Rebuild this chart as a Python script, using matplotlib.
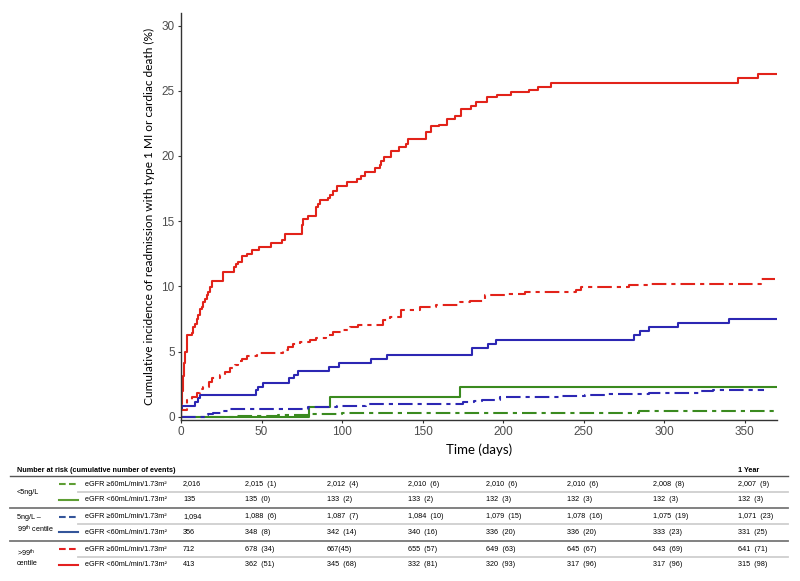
import matplotlib
matplotlib.use("Agg")
import matplotlib.pyplot as plt

plt.rcParams['font.family'] = ['Liberation Sans', 'DejaVu Sans']
plt.rcParams['mathtext.fontset'] = 'custom'
plt.rcParams['mathtext.rm'] = 'Liberation Sans'

# curve data (days, cumulative incidence %)
rs_t = [0, 0.3, 0.6, 1.0, 1.9, 2.7, 3.5, 6.6, 7.6, 8.7, 9.7, 10.7, 11.8, 12.8, 13.8, 14.9, 15.9,
        16.9, 18.0, 19.0, 26.2, 32.9, 34.0, 35.5, 37.6, 40.7, 43.8, 48.6, 55.6, 62.5, 64.5, 75.2,
        75.8, 78.9, 84.1, 85.1, 86.6, 91.4, 92.8, 94.4, 96.9, 103.1, 109.3, 112.0, 114.1, 120.3,
        123.4, 124.4, 125.9, 130.6, 135.4, 139.9, 140.9, 151.9, 155, 160, 165, 170, 174, 180, 183,
        190, 196, 205, 216, 221.5, 229.8, 346, 358, 370]
rs_v = [0, 1.0, 2.0, 3.1, 4.1, 5.0, 6.25, 6.4, 6.9, 7.1, 7.5, 7.8, 8.3, 8.4, 8.8, 9.05, 9.3,
        9.6, 9.95, 10.4, 11.1, 11.5, 11.7, 11.9, 12.3, 12.5, 12.8, 13.05, 13.3, 13.55, 14.05, 14.7,
        15.2, 15.4, 16.1, 16.3, 16.6, 16.8, 17.0, 17.3, 17.7, 18.0, 18.2, 18.45, 18.75, 19.05,
        19.3, 19.6, 19.9, 20.4, 20.7, 20.9, 21.3, 21.8, 22.3, 22.4, 22.8, 23.1, 23.6, 23.8, 24.1,
        24.5, 24.7, 24.9, 25.05, 25.3, 25.6, 26.0, 26.3, 26.3]

rd_t = [0, 0.3, 3.5, 6.6, 9.7, 11.8, 13.8, 17.6, 19.0, 24.2, 27.3, 30.4, 33.5, 35.5, 37.6, 41.1,
        46.9, 51.0, 63.4, 66.5, 69.6, 73.8, 80.0, 84.1, 90.3, 94.4, 100.6, 104.8, 110.0, 125.4,
        129.6, 136.8, 148.2, 158.5, 173.0, 179.2, 188.5, 202.9, 213.3, 245.3, 248.4, 278.4,
        289.8, 359.9, 369]
rd_v = [0, 0.5, 1.3, 1.5, 1.8, 2.1, 2.25, 2.7, 3.0, 3.2, 3.45, 3.7, 3.95, 4.25, 4.45, 4.65,
        4.85, 4.9, 5.15, 5.35, 5.6, 5.75, 5.9, 6.05, 6.25, 6.5, 6.65, 6.9, 7.0, 7.4,
        7.65, 8.15, 8.4, 8.6, 8.8, 8.9, 9.3, 9.45, 9.55, 9.75, 9.95, 10.1,
        10.2, 10.6, 10.6]

bs_t = [0, 0.2, 0.6, 8.7, 10.7, 11.8, 46.5, 47.9, 50.6, 67.2, 70.1, 72.7, 92.0, 98.2, 117.8,
        128.0, 180.8, 190.5, 195.7, 281.4, 285.0, 290.8, 308.4, 340.0, 370]
bs_v = [0, 0.6, 0.85, 1.15, 1.4, 1.7, 2.05, 2.25, 2.6, 2.95, 3.2, 3.5, 3.8, 4.1, 4.45,
        4.7, 5.3, 5.6, 5.9, 6.25, 6.6, 6.9, 7.2, 7.5, 7.5]

bd_t = [0, 15, 17, 20, 26, 29, 79, 97, 115, 150, 175, 182, 187, 197.8, 235.9, 251, 265, 290.8,
        322.8, 330, 362]
bd_v = [0, 0.1, 0.2, 0.3, 0.43, 0.62, 0.72, 0.85, 0.95, 1.0, 1.1, 1.2, 1.28, 1.48, 1.57, 1.63,
        1.71, 1.79, 1.94, 2.04, 2.04]

gs_t = [0, 79.6, 92.8, 173.0, 370]
gs_v = [0, 0.77, 1.53, 2.3, 2.3]

gd_t = [0, 35, 60, 75, 80, 100, 110, 284.6, 339, 370]
gd_v = [0, 0.05, 0.1, 0.15, 0.2, 0.25, 0.31, 0.41, 0.45, 0.45]

# number at risk table
group_labels = ['<5ng/L', '5ng/L \u2013\n99$^{\\mathrm{th}}$ centile', '>99$^{\\mathrm{th}}$\ncentile']
row_labels = ['eGFR \u226560mL/min/1.73m\u00b2', 'eGFR <60mL/min/1.73m\u00b2'] * 3
risk_rows = [
    ['2,016', '2,015  (1)', '2,012  (4)', '2,010  (6)', '2,010  (6)', '2,010  (6)', '2,008  (8)', '2,007  (9)'],
    ['135', '135  (0)', '133  (2)', '133  (2)', '132  (3)', '132  (3)', '132  (3)', '132  (3)'],
    ['1,094', '1,088  (6)', '1,087  (7)', '1,084  (10)', '1,079  (15)', '1,078  (16)', '1,075  (19)', '1,071  (23)'],
    ['356', '348  (8)', '342  (14)', '340  (16)', '336  (20)', '336  (20)', '333  (23)', '331  (25)'],
    ['712', '678  (34)', '667(45)', '655  (57)', '649  (63)', '645  (67)', '643  (69)', '641  (71)'],
    ['413', '362  (51)', '345  (68)', '332  (81)', '320  (93)', '317  (96)', '317  (96)', '315  (98)'],
]

RED = '#e2231a'
BLUE = '#2c27b3'
GREEN = '#3a8a1f'
dashdot = (7, 2.4, 2, 2.4)

W, H = 800, 581
fig = plt.figure(figsize=(8, 5.81), dpi=100)
ax = fig.add_axes([181 / W, 1 - 420 / H, (777 - 181) / W, (420 - 12.5) / H])

ax.step(gd_t, gd_v, where='post', color=GREEN, lw=1.5, dashes=dashdot)
ax.step(gs_t, gs_v, where='post', color=GREEN, lw=1.5)
ax.step(bd_t, bd_v, where='post', color=BLUE, lw=1.5, dashes=dashdot)
ax.step(bs_t, bs_v, where='post', color=BLUE, lw=1.5)
ax.step(rd_t, rd_v, where='post', color=RED, lw=1.5, dashes=dashdot)
ax.step(rs_t, rs_v, where='post', color=RED, lw=1.5)

ax.set_xlim(0, 370)
ax.set_ylim(-0.25, 31.0)
ax.set_xticks(range(0, 351, 50))
ax.set_yticks(range(0, 31, 5))
for s in ['top', 'right']:
    ax.spines[s].set_visible(False)
for s in ['left', 'bottom']:
    ax.spines[s].set_color('#333333')
    ax.spines[s].set_linewidth(1.0)
ax.tick_params(length=2.5, width=0.8, color='#333333', labelcolor='#4d4d4d', labelsize=8.5, pad=2)
ax.set_xlabel('Time (days)', family=['Lato', 'DejaVu Sans'], fontsize=9.5, labelpad=4)
ax.set_ylabel('Cumulative incidence of readmission with type 1 MI or cardiac death (%)',
              family=['Lato', 'DejaVu Sans'], fontsize=8.6, labelpad=5)

# table drawn in pixel coordinates
tb = fig.add_axes([0, 0, 1, 1])
tb.set_xlim(0, W)
tb.set_ylim(H, 0)
tb.axis('off')

fs = 5.2
tb.text(17, 470, 'Number at risk (cumulative number of events)', fontsize=fs,
        fontweight='bold', va='center', ha='left')
tb.text(738, 470, '1 Year', fontsize=fs, fontweight='bold', va='center', ha='left')

tb.plot([10, 788], [475.7, 475.7], color='#555555', lw=1.0)
tb.plot([10, 788], [508.3, 508.3], color='#777777', lw=1.3)
tb.plot([10, 788], [541, 541], color='#777777', lw=1.3)
for y in [491.7, 524.3, 556.7]:
    tb.plot([78, 788], [y, y], color='#cfcfcf', lw=1.3)

row_y = [484, 499.5, 516.7, 532.3, 549.3, 565]
col_x = [183, 245, 327, 408, 486, 567, 653, 738]
legend_colors = ['#5e9e34', '#5e9e34', '#34559a', '#34559a', '#e32020', '#e32020']

group_y = [492.3, 524.5, 557.5]
for lab, y in zip(group_labels, group_y):
    tb.text(17, y, lab, fontsize=fs, va='center', ha='left', linespacing=1.3)

for i, (lab, y) in enumerate(zip(row_labels, row_y)):
    if i % 2 == 0:
        tb.plot([59, 78], [y, y], color=legend_colors[i], lw=1.5, dashes=(3.2, 1.6))
    else:
        tb.plot([59, 78], [y, y], color=legend_colors[i], lw=1.5)
    tb.text(85, y, lab, fontsize=fs, va='center', ha='left')
    for x, val in zip(col_x, risk_rows[i]):
        tb.text(x, y, val, fontsize=fs, va='center', ha='left')

fig.savefig('out.png', dpi=100)
